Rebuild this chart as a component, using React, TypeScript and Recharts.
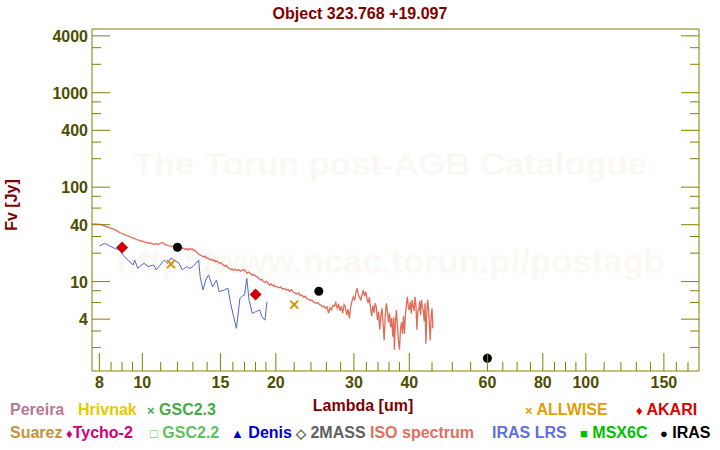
import React from 'react';
import { ComposedChart, Line, Scatter, XAxis, YAxis } from 'recharts';

const OLIVE = '#808000';
const TICK_TEXT = '#4d4d00';
const DARK_RED = '#800000';
const FONT = '"Liberation Sans", Arial, sans-serif';

// axis ticks (log scales, minor ticks unlabelled)
const X_TICKS = [
  8, 8.5, 9, 9.5, 10, 11, 12, 13, 14, 15, 16, 17, 18, 19, 20, 22, 24, 26, 28, 30, 32, 34, 36, 38, 40,
  45, 50, 55, 60, 65, 70, 75, 80, 85, 90, 95, 100, 110, 120, 130, 140, 150, 160, 170,
];
const X_LABELS = [8, 10, 15, 20, 30, 40, 60, 80, 100, 150];
const Y_TICKS = [2, 3, 4, 6, 8, 10, 20, 30, 40, 60, 80, 100, 200, 300, 400, 600, 800, 1000, 2000, 3000, 4000];
const Y_LABELS = [4, 10, 40, 100, 400, 1000, 4000];

// [lambda um, flux Jy]
const ISO_SPECTRUM: [number, number][] = [
  [7.7, 40.8], [7.78, 40.5], [7.85, 40.9], [7.92, 40.3], [8.0, 40.6], [8.08, 40.1], [8.15, 39.4], [8.22, 38.8],
  [8.3, 38.2], [8.38, 37.6], [8.45, 37.0], [8.52, 36.6], [8.6, 36.0], [8.68, 35.5], [8.75, 34.6], [8.82, 33.9],
  [8.9, 33.0], [8.97, 32.5], [9.05, 32.0], [9.12, 31.4], [9.2, 30.9], [9.28, 30.4], [9.36, 30.0], [9.45, 29.3],
  [9.54, 28.9], [9.62, 28.5], [9.7, 27.9], [9.78, 27.6], [9.86, 27.2], [9.95, 26.9], [10.05, 26.6], [10.15, 26.1],
  [10.25, 25.8], [10.35, 25.4], [10.45, 25.6], [10.55, 25.0], [10.65, 24.9], [10.75, 25.2], [10.85, 24.7], [10.95, 25.3],
  [11.05, 25.8], [11.15, 25.6], [11.25, 24.8], [11.35, 24.3], [11.45, 24.0], [11.55, 23.9], [11.65, 23.5], [11.75, 23.7],
  [11.85, 23.2], [11.95, 22.9], [12.05, 23.2], [12.15, 22.6], [12.25, 22.2], [12.35, 22.8], [12.45, 21.9], [12.55, 22.5],
  [12.65, 21.6], [12.75, 22.4], [12.85, 21.8], [12.95, 22.3], [13.05, 21.2], [13.15, 21.6], [13.25, 20.4], [13.35, 20.0],
  [13.45, 19.3], [13.55, 19.0], [13.65, 18.6], [13.75, 18.2], [13.85, 18.6], [13.95, 17.6], [14.05, 17.9], [14.15, 17.2],
  [14.25, 16.9], [14.35, 17.3], [14.45, 16.6], [14.55, 16.9], [14.65, 16.2], [14.75, 16.5], [14.85, 15.9], [14.95, 15.6],
  [15.05, 15.9], [15.15, 15.2], [15.25, 15.0], [15.35, 14.6], [15.45, 14.9], [15.55, 14.2], [15.65, 14.0], [15.75, 13.7],
  [15.85, 13.4], [15.95, 13.6], [16.05, 13.2], [16.2, 13.5], [16.35, 13.1], [16.5, 13.4], [16.65, 12.9], [16.8, 13.2],
  [16.95, 13.4], [17.1, 12.8], [17.25, 12.3], [17.4, 12.6], [17.55, 12.0], [17.7, 11.7], [17.85, 11.9], [18.0, 11.4],
  [18.15, 11.2], [18.3, 10.9], [18.45, 10.4], [18.6, 10.6], [18.75, 10.0], [18.9, 9.8], [19.05, 10.1], [19.2, 9.6],
  [19.35, 9.2], [19.5, 9.5], [19.65, 9.0], [19.8, 9.2], [19.95, 8.8], [20.1, 8.9], [20.3, 8.6], [20.5, 8.8],
  [20.7, 8.3], [20.9, 8.5], [21.1, 8.1], [21.3, 8.3], [21.5, 7.9], [21.7, 8.2], [21.9, 7.7], [22.1, 7.6],
  [22.3, 7.4], [22.5, 7.6], [22.7, 7.1], [22.9, 7.2], [23.1, 6.8], [23.3, 7.0], [23.5, 6.6], [23.7, 6.5],
  [23.9, 6.3], [24.1, 6.4], [24.3, 6.1], [24.5, 6.0], [24.7, 5.9], [24.9, 6.0], [25.1, 5.7], [25.3, 5.6],
  [25.5, 5.4], [25.7, 5.5], [25.9, 5.2], [26.1, 5.4], [26.3, 4.6], [26.5, 5.3], [26.7, 5.0], [26.9, 5.6],
  [27.1, 5.5], [27.3, 6.0], [27.5, 5.2], [27.7, 5.8], [27.9, 4.9], [28.1, 5.5], [28.3, 4.6], [28.5, 5.7],
  [28.7, 5.4], [28.9, 4.4], [29.1, 5.1], [29.3, 4.1], [29.5, 5.4], [29.7, 6.2], [29.9, 6.9], [30.1, 6.3],
  [30.3, 7.6], [30.5, 8.5], [30.7, 7.2], [30.9, 6.8], [31.1, 6.4], [31.3, 7.3], [31.5, 8.1], [31.7, 7.0],
  [31.9, 7.8], [32.1, 6.6], [32.3, 5.9], [32.5, 6.8], [32.7, 5.3], [32.9, 4.3], [33.1, 5.6], [33.3, 4.7],
  [33.5, 5.9], [33.7, 5.4], [33.9, 3.9], [34.1, 4.8], [34.3, 3.1], [34.5, 4.3], [34.7, 5.2], [34.9, 3.6],
  [35.1, 2.4], [35.3, 4.4], [35.5, 5.9], [35.7, 4.9], [35.9, 3.7], [36.1, 4.6], [36.3, 3.3], [36.5, 4.1],
  [36.7, 2.6], [36.9, 4.2], [37.0, 1.9], [37.2, 3.6], [37.4, 5.0], [37.6, 3.4], [37.8, 2.4], [38.0, 1.9],
  [38.2, 3.1], [38.4, 3.7], [38.6, 2.8], [38.8, 4.3], [39.0, 2.8], [39.2, 4.5], [39.4, 5.8], [39.6, 6.9],
  [39.8, 5.3], [40.0, 5.0], [40.2, 6.1], [40.4, 4.6], [40.6, 6.4], [40.8, 5.5], [41.0, 4.9], [41.2, 6.9],
  [41.4, 5.6], [41.6, 3.1], [41.8, 4.9], [42.0, 5.0], [42.2, 6.2], [42.4, 4.4], [42.6, 6.4], [42.8, 5.4],
  [43.0, 5.0], [43.2, 3.8], [43.4, 5.9], [43.6, 2.2], [43.8, 4.6], [44.0, 6.4], [44.2, 5.1], [44.4, 3.5],
  [44.6, 2.4], [44.8, 4.4], [45.0, 5.2], [45.2, 3.2],
];

const IRAS_LRS: [number, number][] = [
  [8.01, 23.8], [8.22, 25.5], [8.44, 23.8], [8.66, 22.5], [8.89, 21.6], [9.04, 19.1], [9.28, 16.9], [9.53, 15.0],
  [9.61, 16.9], [9.77, 13.8], [9.95, 15.0], [10.1, 15.6], [10.3, 14.4], [10.6, 15.0], [10.75, 13.3], [10.9, 14.4],
  [11.2, 16.9], [11.4, 15.6], [11.6, 17.7], [11.8, 16.9], [12.1, 15.6], [12.3, 13.3], [12.6, 14.4], [12.8, 13.8],
  [13.0, 14.4], [13.2, 15.6], [13.4, 16.9], [13.5, 11.3], [13.7, 8.15], [13.9, 10.4], [14.1, 11.8], [14.4, 8.8],
  [14.7, 10.4], [14.9, 7.8], [15.3, 8.15], [15.6, 8.5], [15.8, 6.0], [16.0, 4.6], [16.3, 3.2], [16.6, 6.65],
  [16.8, 7.0], [17.0, 7.2], [17.2, 10.8], [17.4, 6.4], [17.7, 4.6], [18.0, 4.8], [18.4, 5.0], [18.6, 4.25],
  [18.9, 3.9], [19.1, 6.1],
];

const AKARI: [number, number][] = [[9.0, 22.9], [18.0, 7.3]];
const IRAS: [number, number][] = [[12.0, 23.1], [25.0, 7.9], [60.0, 1.54]];
const ALLWISE: [number, number][] = [[11.6, 15.3], [22.0, 5.7]];

const toPoints = (arr: [number, number][]) => arr.map(([x, y]) => ({ x, y }));

const LEGEND_ROW1 = [
  { x: 10, sym: '', label: 'Pereira', color: '#b87894' },
  { x: 78, sym: '', label: 'Hrivnak', color: '#e8c800' },
  { x: 147, sym: '×', label: ' GSC2.3', color: '#48a848' },
  { x: 525, sym: '×', label: ' ALLWISE', color: '#e0a000' },
  { x: 636, sym: '♦', label: ' AKARI', color: '#e00000' },
];
const LEGEND_ROW2 = [
  { x: 10, sym: '', label: 'Suarez', color: '#c89040' },
  { x: 66, sym: '♦', label: 'Tycho-2', color: '#d0007a' },
  { x: 150, sym: '□', label: ' GSC2.2', color: '#60c060' },
  { x: 231, sym: '▲', label: ' Denis', color: '#0000c8' },
  { x: 296, sym: '◇', label: ' 2MASS', color: '#606060' },
  { x: 370, sym: '', label: 'ISO spectrum', color: '#e07060' },
  { x: 492, sym: '', label: 'IRAS LRS', color: '#6070d8' },
  { x: 580, sym: '■', label: ' MSX6C', color: '#00c000' },
  { x: 660, sym: '●', label: ' IRAS', color: '#000000' },
];

const tickText = { fontFamily: FONT, fontWeight: 700, fontSize: 16, fill: TICK_TEXT };

const BottomTick = ({ x, y, payload }: any) => {
  const major = X_LABELS.includes(payload.value);
  return (
    <g>
      <line x1={x} x2={x} y1={y} y2={y - (major ? 18 : 9)} stroke={OLIVE} />
      {major && (
        <text x={x} y={y + 17} textAnchor="middle" {...tickText}>
          {payload.value}
        </text>
      )}
    </g>
  );
};

const TopTick = ({ x, y, payload }: any) => {
  const major = X_LABELS.includes(payload.value);
  return <line x1={x} x2={x} y1={y} y2={y + (major ? 18 : 9)} stroke={OLIVE} />;
};

const LeftTick = ({ x, y, payload }: any) => {
  const major = Y_LABELS.includes(payload.value);
  return (
    <g>
      <line x1={x} x2={x + (major ? 18 : 9)} y1={y} y2={y} stroke={OLIVE} />
      {major && (
        <text x={x - 4} y={y + 6} textAnchor="end" {...tickText}>
          {payload.value}
        </text>
      )}
    </g>
  );
};

const RightTick = ({ x, y, payload }: any) => {
  const major = Y_LABELS.includes(payload.value);
  return <line x1={x} x2={x - (major ? 18 : 9)} y1={y} y2={y} stroke={OLIVE} />;
};

const Diamond = ({ cx, cy }: any) => (
  <path d={`M${cx},${cy - 6}L${cx + 6},${cy}L${cx},${cy + 6}L${cx - 6},${cy}Z`} fill="#d00000" />
);
const Dot = ({ cx, cy }: any) => <circle cx={cx} cy={cy} r={4.5} fill="#000" />;
const Cross = ({ cx, cy }: any) => (
  <path d={`M${cx - 4},${cy - 4}L${cx + 4},${cy + 4}M${cx - 4},${cy + 4}L${cx + 4},${cy - 4}`} stroke="#e09000" strokeWidth={2} />
);

const legendRow = (items: typeof LEGEND_ROW1, y: number) =>
  items.map((it) => (
    <text key={it.label} x={it.x} y={y} fill={it.color} fontFamily={FONT} fontWeight={700} fontSize={16}>
      {it.sym && <tspan fontSize={13}>{it.sym}</tspan>}
      {it.label}
    </text>
  ));

export default function App() {
  return (
    <div style={{ position: 'absolute', left: 0, top: 0, width: 720, height: 450, background: '#fff' }}>
      <svg width={720} height={450} style={{ position: 'absolute', left: 0, top: 0 }}>
        <text x={360} y={19} textAnchor="middle" fill={DARK_RED} fontFamily={FONT} fontWeight={700} fontSize={16}>
          Object 323.768 +19.097
        </text>
        <text x={390} y={175} textAnchor="middle" fill="#fbf8f4" fontFamily={FONT} fontWeight={700} fontSize={32}
          textLength={514} lengthAdjust="spacingAndGlyphs">
          The Torun post-AGB Catalogue
        </text>
        <text x={391} y={273} textAnchor="middle" fill="#fbf8f4" fontFamily={FONT} fontWeight={700} fontSize={33}
          textLength={548} lengthAdjust="spacingAndGlyphs">
          http://www.ncac.torun.pl/postagb
        </text>
        <text x={17} y={205} textAnchor="middle" transform="rotate(-90 17 205)" fill={DARK_RED}
          fontFamily={FONT} fontWeight={700} fontSize={16}>
          Fv [Jy]
        </text>
        <text x={363} y={411} textAnchor="middle" fill={DARK_RED} fontFamily={FONT} fontWeight={700} fontSize={16}>
          Lambda [um]
        </text>
        {legendRow(LEGEND_ROW1, 415)}
        {legendRow(LEGEND_ROW2, 438)}
      </svg>
      <div style={{ position: 'absolute', left: 0, top: 0 }}>
        <ComposedChart width={720} height={450} margin={{ top: 0, right: 0, bottom: 0, left: 0 }}>
          <XAxis
            xAxisId={0}
            dataKey="x"
            type="number"
            scale="log"
            domain={[7.7, 180]}
            allowDataOverflow
            ticks={X_TICKS}
            interval={0}
            height={79}
            tickSize={0}
            tickMargin={0}
            tickLine={false}
            axisLine={{ stroke: OLIVE }}
            tick={BottomTick}
          />
          <XAxis
            xAxisId="top"
            orientation="top"
            type="number"
            scale="log"
            domain={[7.7, 180]}
            allowDataOverflow
            ticks={X_TICKS}
            interval={0}
            height={29}
            tickSize={0}
            tickMargin={0}
            tickLine={false}
            axisLine={{ stroke: OLIVE }}
            tick={TopTick}
          />
          <YAxis
            yAxisId={0}
            dataKey="y"
            type="number"
            scale="log"
            domain={[1.13, 4730]}
            allowDataOverflow
            ticks={Y_TICKS}
            interval={0}
            width={92}
            tickSize={0}
            tickMargin={0}
            tickLine={false}
            axisLine={{ stroke: OLIVE }}
            tick={LeftTick}
          />
          <YAxis
            yAxisId="right"
            orientation="right"
            type="number"
            scale="log"
            domain={[1.13, 4730]}
            allowDataOverflow
            ticks={Y_TICKS}
            interval={0}
            width={21}
            tickSize={0}
            tickMargin={0}
            tickLine={false}
            axisLine={{ stroke: OLIVE }}
            tick={RightTick}
          />
          <Line
            data={toPoints(ISO_SPECTRUM)}
            dataKey="y"
            type="linear"
            stroke="#e06c58"
            strokeWidth={1.3}
            dot={false}
            isAnimationActive={false}
          />
          <Line
            data={toPoints(IRAS_LRS)}
            dataKey="y"
            type="linear"
            stroke="#5464d8"
            strokeWidth={1}
            dot={false}
            isAnimationActive={false}
          />
          <Scatter data={toPoints(ALLWISE)} dataKey="y" shape={Cross} isAnimationActive={false} />
          <Scatter data={toPoints(AKARI)} dataKey="y" shape={Diamond} isAnimationActive={false} />
          <Scatter data={toPoints(IRAS)} dataKey="y" shape={Dot} isAnimationActive={false} />
        </ComposedChart>
      </div>
    </div>
  );
}
